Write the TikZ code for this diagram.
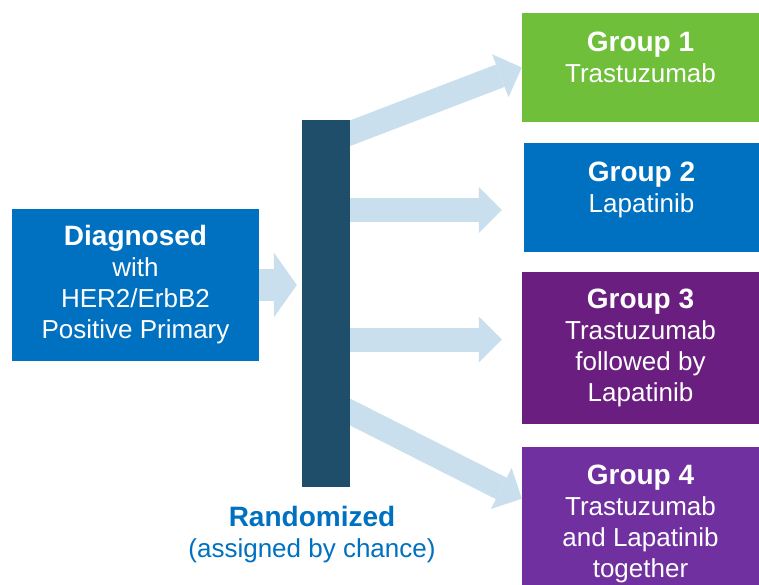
\documentclass[tikz,border=0pt]{standalone}
\usepackage{fontspec}
\setmainfont{Liberation Sans}
\usetikzlibrary{arrows.meta,backgrounds}
\definecolor{diagblue}{HTML}{0070C0}
\definecolor{bardark}{HTML}{1F4E6A}
\definecolor{arrowblue}{HTML}{C9DFED}
\definecolor{grpgreen}{HTML}{6FBF3B}
\definecolor{grppurple}{HTML}{6A1F80}
\definecolor{grpviolet}{HTML}{7030A0}
\tikzset{
	grpbox/.style={rectangle, inner sep=0pt, text=white, align=center, font=\fontsize{26}{31}\selectfont},
	fatarrow/.style={draw=arrowblue, line width=24pt, -{Triangle[width=46pt,length=23pt,line width=0pt]}},
}
\newcommand{\grptitle}[1]{{\fontsize{28}{31}\selectfont\bfseries #1}}
\newcommand{\lowpad}[1]{\rule[-#1pt]{0pt}{0pt}}
\begin{document}
\begin{tikzpicture}[x=1pt,y=-1pt]
		\useasboundingbox (0,0) rectangle (759,585);
		\node[grpbox, fill=diagblue, minimum width=247, minimum height=152] (diag) at (135.5,285) {\grptitle{Diagnosed}\\with\\HER2/ErbB2\\Positive Primary};
		\node[fill=bardark, minimum width=48, minimum height=367, inner sep=0pt] (bar) at (326,303.5) {};
		\node[grpbox, fill=grpgreen, minimum width=237, minimum height=109] (grp1) at (640.5,67.5) {\grptitle{Group 1}\\Trastuzumab\lowpad{20}};
		\node[grpbox, fill=diagblue, minimum width=235, minimum height=109] (grp2) at (641.5,197.5) {\grptitle{Group 2}\\Lapatinib\lowpad{21}};
		\node[grpbox, fill=grppurple, minimum width=237, minimum height=152] (grp3) at (640.5,348) {\grptitle{Group 3}\\Trastuzumab\\followed by\\Lapatinib};
		\node[grpbox, fill=grpviolet, minimum width=237, minimum height=153] (grp4) at (640.5,523.5) {\grptitle{Group 4}\\Trastuzumab\\and Lapatinib\\together};
		\node[text=diagblue, align=center, font=\fontsize{26}{31}\selectfont] (randlabel) at (312,535) {\grptitle{Randomized}\\(assigned by chance)};
		% arrows behind the boxes
		\begin{scope}[on background layer]
			\draw[fatarrow, line width=32pt, -{Triangle[width=65pt,length=23pt,line width=0pt]}] ([xshift=-10pt]diag.east) -- ([xshift=-5pt]diag.east -| bar.west);
			\draw[fatarrow] ([xshift=-10pt]bar.east |- 0,137) -- (grp1.west);
			\draw[fatarrow, shorten >=22pt] ([xshift=-10pt]bar.east |- 0,210) -- (grp2.west |- 0,210);
			\draw[fatarrow, shorten >=20pt] ([xshift=-10pt]bar.east |- 0,339.5) -- (grp3.west |- 0,339.5);
			\draw[fatarrow] ([xshift=-10pt]bar.east |- 0,407) -- ([yshift=-52pt]grp4.north west);
		\end{scope}
	\end{tikzpicture}
\end{document}
